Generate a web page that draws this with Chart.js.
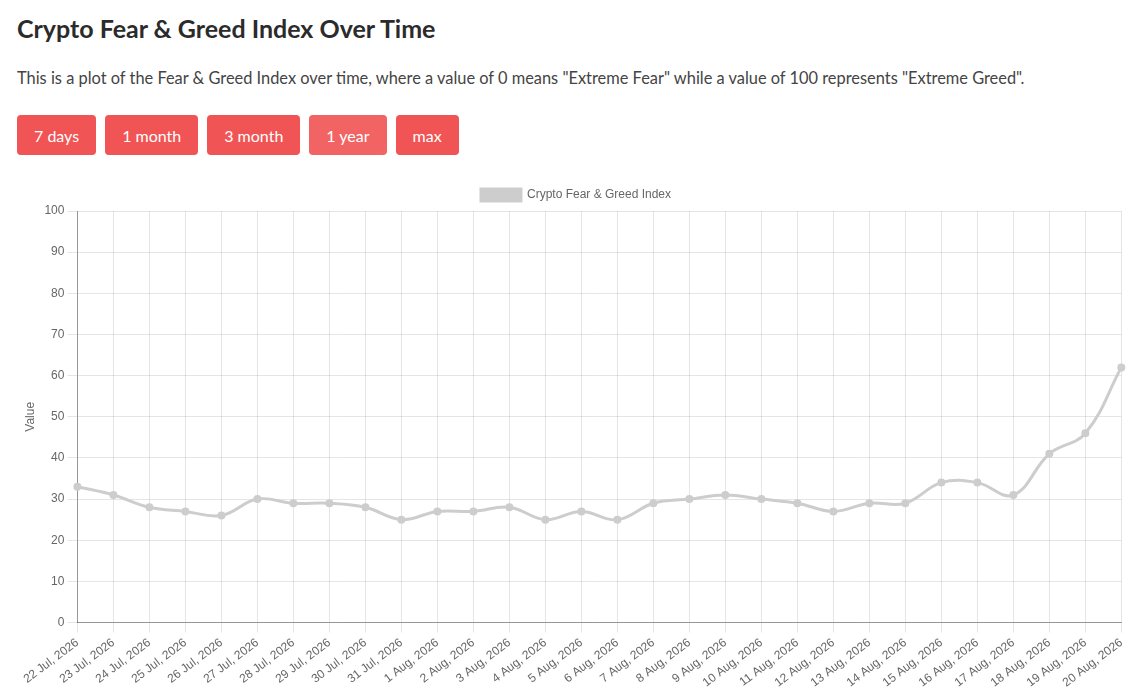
<!DOCTYPE html>
<html>
<head>
<meta charset="utf-8">
<script src="https://cdn.jsdelivr.net/npm/chart.js@4"></script>
<style>
  body { margin: 0; background: #fff; font-family: "Lato", "Open Sans", sans-serif; color: #333; }
  h2 { position: absolute; left: 17px; top: 13px; margin: 0; font-size: 25px; font-weight: 700; color: #2b2b2b; }
  p.desc { position: absolute; left: 17px; top: 68px; margin: 0; font-size: 16.4px; color: #444; }
  .btns { position: absolute; left: 17px; top: 115px; }
  .btns button { height: 40px; margin-right: 9px; float: left; border: none; border-radius: 4px; background: #f05454; color: #fff; font-family: inherit; font-size: 16px; padding: 0 17px; }
  .btns button.on { background: #f26464; }
  #wrap { position: absolute; left: 19px; top: 179px; width: 1114px; height: 514px; }
</style>
</head>
<body>
<h2>Crypto Fear &amp; Greed Index Over Time</h2>
<p class="desc">This is a plot of the Fear &amp; Greed Index over time, where a value of 0 means "Extreme Fear" while a value of 100 represents "Extreme Greed".</p>
<div class="btns">
  <button>7 days</button><button>1 month</button><button>3 month</button><button class="on">1 year</button><button>max</button>
</div>
<div id="wrap"><canvas id="chart"></canvas></div>
<script>
const labels = [
  "22 Jul, 2026", "23 Jul, 2026", "24 Jul, 2026", "25 Jul, 2026", "26 Jul, 2026",
  "27 Jul, 2026", "28 Jul, 2026", "29 Jul, 2026", "30 Jul, 2026", "31 Jul, 2026",
  "1 Aug, 2026", "2 Aug, 2026", "3 Aug, 2026", "4 Aug, 2026", "5 Aug, 2026",
  "6 Aug, 2026", "7 Aug, 2026", "8 Aug, 2026", "9 Aug, 2026", "10 Aug, 2026",
  "11 Aug, 2026", "12 Aug, 2026", "13 Aug, 2026", "14 Aug, 2026", "15 Aug, 2026",
  "16 Aug, 2026", "17 Aug, 2026", "18 Aug, 2026", "19 Aug, 2026", "20 Aug, 2026"
];
const values = [
  33, 31, 28, 27, 26,
  30, 29, 29, 28, 25,
  27, 27, 28, 25, 27,
  25, 29, 30, 31, 30,
  29, 27, 29, 29, 34,
  34, 31, 41, 46, 62
];
const yTicks = [0, 10, 20, 30, 40, 50, 60, 70, 80, 90, 100];

Chart.defaults.font.family = '"Liberation Sans", Arial, sans-serif';
Chart.defaults.font.size = 12;
Chart.defaults.color = "#666";

const ctx = document.getElementById("chart").getContext("2d");
new Chart(ctx, {
  type: "line",
  data: {
    labels: labels,
    datasets: [{
      label: "Crypto Fear & Greed Index",
      data: values,
      borderColor: "rgba(205,205,205,1)",
      backgroundColor: "rgba(205,205,205,1)",
      borderWidth: 3,
      pointRadius: 2.5,
      pointBackgroundColor: "rgba(205,205,205,1)",
      pointBorderColor: "rgba(205,205,205,1)",
      tension: 0.4,
      fill: false
    }]
  },
  options: {
    responsive: true,
    maintainAspectRatio: false,
    animation: false,
    plugins: {
      legend: {
        labels: { boxWidth: 40, boxHeight: 12, color: "#666" }
      },
      tooltip: { enabled: false }
    },
    scales: {
      x: {
        grid: { color: "rgba(0,0,0,0.1)", tickLength: 10 },
        border: { color: "rgba(0,0,0,0.35)" },
        ticks: { autoSkip: false, minRotation: 37, maxRotation: 37 }
      },
      y: {
        min: 0,
        max: 100,
        afterBuildTicks: (axis) => { axis.ticks = yTicks.map(v => ({ value: v })); },
        grid: { color: "rgba(0,0,0,0.1)", tickLength: 10 },
        border: { color: "rgba(0,0,0,0.35)" },
        title: { display: true, text: "Value", color: "#666" }
      }
    }
  }
});
</script>
</body>
</html>
